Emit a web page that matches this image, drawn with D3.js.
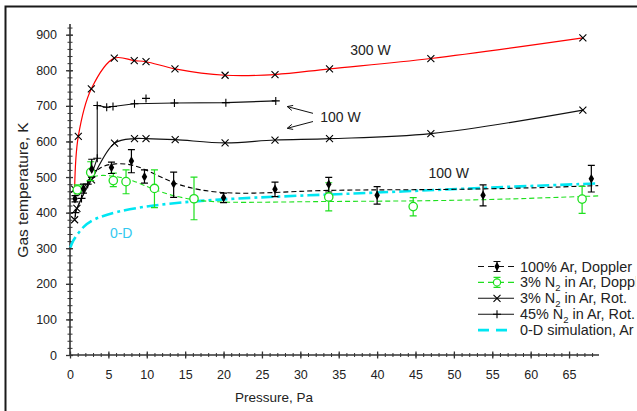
<!DOCTYPE html>
<meta charset="utf-8">
<style>
 body { margin: 0; background: #fff; }
 svg text { font-family: "Liberation Sans", Arial, sans-serif; fill: #222; }
 .axis path, .axis line { stroke: #333; }
 .axis text { font-size: 12.5px; }
</style>
<body>
<script src="https://d3js.org/d3.v7.min.js"></script>
<script>
 // 3% N2 in Ar, rotational T, 300 W  [pressure Pa, T K]
 var rot300 = [[0.6,466],[1.08,614],[2.78,748],[5.77,834],[8.37,827],[9.9,824],[13.67,804],
               [20.2,786],[26.7,788],[33.8,804],[47,833],[66.8,891]];
 // 3% N2 in Ar, rotational T, 100 W
 var rot100 = [[0.6,380],[0.9,412],[2.8,492],[5.8,595],[8.4,608],[9.9,608],[13.7,605],
               [20.2,596],[26.7,604],[33.8,608],[47,622],[66.8,688]];
 // 45% N2 in Ar, rotational T
 var rot45 = [[0.7,400],[1.5,440],[2.3,480],[3.0,518],[3.55,553],[3.55,701],[4.78,696],
              [5.6,698],[8.4,706],[13.6,708],[20.3,709],[26.8,714]];
 var rot45Extra = [[9.9,721]];
 // Doppler: [pressure, T, low, high]
 var arDop = [[0.65,439,430,448],[1.75,467,455,480],[2.83,522,500,550],[5.4,527,510,542],
              [8.0,545,512,577],[9.7,501,483,520],[13.5,481,443,514],[20.0,442,428,455],
              [26.7,466,445,486],[33.7,480,458,499],[40.0,449,424,473],[53.8,449,419,478],
              [67.9,495,458,533]];
 var n2Dop = [[0.95,464,453,478],[2.7,513,490,543],[5.64,490,473,511],[7.3,487,453,520],
              [11.0,468,414,520],[16.15,439,380,500],[33.7,444,405,484],[44.7,417,391,442],
              [66.7,438,398,474]];
 // fitted trend lines
 var arDopFit = [[0.5,430],[1.8,468],[2.8,505],[4,530],[5.8,539],[8.3,536],[10.8,511],[13.5,482],
                 [16.9,462],[21.2,453],[26.7,456],[32.5,463],[40,464],[50,465],[60,469],[68.8,476]];
 var n2DopFit = [[0.6,458],[1.5,475],[2.7,500],[3.9,506],[5.8,503],[8.2,492],[10.8,464],[15.2,436],
                 [20.4,427],[30,431],[40,432],[50,434],[60,440],[68.8,447]];
 var zeroD = [[0.05,302],[0.4,322],[0.9,337],[1.7,360],[3,382],[6,403],[10.4,420],[16.5,433],
              [23.4,442],[33.8,451],[43,459],[53.8,470],[68.8,482]];

 var xMajor = d3.range(0, 66, 5), xMinor = d3.range(0, 69, 1);
 var yMajor = d3.range(0, 901, 100), yMinor = d3.range(0, 921, 20);

 var svg = d3.select("body").append("svg").attr("width", 637).attr("height", 411);

 // outer frame
 svg.append("rect").attr("x", 5.5).attr("y", 6.5).attr("width", 700).attr("height", 500)
    .attr("fill", "none").attr("stroke", "#1a1a1a").attr("stroke-width", 2);

 var x = d3.scaleLinear().domain([0, 68.9]).range([70, 599]),
     y = d3.scaleLinear().domain([0, 930]).range([355, 24]);

 // axes
 var gy = svg.append("g").attr("class", "axis").attr("transform", "translate(70,0)")
   .call(d3.axisLeft(y).tickValues(yMajor).tickSize(4).tickPadding(9));
 gy.selectAll(".tick line").attr("x1", 3).attr("x2", -4).attr("stroke-width", 1.3);
 var gym = svg.append("g").attr("class", "axis").attr("transform", "translate(70,0)")
   .call(d3.axisLeft(y).tickValues(yMinor).tickSize(2.5).tickFormat(""));
 gym.selectAll(".tick line").attr("x1", 2.5);
 gym.select(".domain").remove();
 gy.select(".domain").attr("d", "M0," + y(0) + "V" + y(930)).attr("stroke-width", 1.6);

 var gx = svg.append("g").attr("class", "axis").attr("transform", "translate(0,355)")
   .call(d3.axisBottom(x).tickValues(xMajor).tickSize(3.5).tickPadding(12));
 gx.selectAll(".tick line").attr("y1", -3.5).attr("stroke-width", 1.3);
 var gxm = svg.append("g").attr("class", "axis").attr("transform", "translate(0,355)")
   .call(d3.axisBottom(x).tickValues(xMinor).tickSize(2).tickFormat(""));
 gxm.selectAll(".tick line").attr("y1", -2);
 gxm.select(".domain").remove();
 gx.select(".domain").attr("d", "M" + x(0) + ",0H" + x(68.9)).attr("stroke-width", 1.6);
 svg.selectAll(".axis text").attr("fill", "#222");

 // axis titles
 svg.append("text").attr("x", 274).attr("y", 402).attr("text-anchor", "middle")
    .style("font-size", "13.5px").text("Pressure, Pa");
 svg.append("text").attr("transform", "translate(28,190) rotate(-90)")
    .attr("text-anchor", "middle").style("font-size", "15.5px").text("Gas temperature, K");

 var line = d3.line().x(function (d) { return x(d[0]); }).y(function (d) { return y(d[1]); });
 var smooth = d3.line().curve(d3.curveCatmullRom.alpha(0.5))
   .x(function (d) { return x(d[0]); }).y(function (d) { return y(d[1]); });
 var basis = d3.line().curve(d3.curveBasis)
   .x(function (d) { return x(d[0]); }).y(function (d) { return y(d[1]); });

 var GREEN = "#1ee01e", CYAN = "#00e6f2";

 // 0-D simulation
 svg.append("path").datum(zeroD).attr("d", basis).attr("fill", "none")
    .attr("stroke", CYAN).attr("stroke-width", 2.6).attr("stroke-dasharray", "12,4,3,4");
 // Doppler fits
 svg.append("path").datum(n2DopFit).attr("d", basis).attr("fill", "none")
    .attr("stroke", GREEN).attr("stroke-width", 1.1).attr("stroke-dasharray", "5,3");
 svg.append("path").datum(arDopFit).attr("d", basis).attr("fill", "none")
    .attr("stroke", "#000").attr("stroke-width", 1.1).attr("stroke-dasharray", "5,3");
 // rotational curves
 svg.append("path").datum(rot300).attr("d", smooth).attr("fill", "none")
    .attr("stroke", "#ff0000").attr("stroke-width", 1.2);
 svg.append("path").datum(rot100).attr("d", smooth).attr("fill", "none")
    .attr("stroke", "#111").attr("stroke-width", 1.1);
 svg.append("path").datum(rot45).attr("d", line).attr("fill", "none")
    .attr("stroke", "#111").attr("stroke-width", 1.1);

 function cross(g, data, sym) {
   g.selectAll(null).data(data).enter().append("path")
    .attr("transform", function (d) { return "translate(" + x(d[0]) + "," + y(d[1]) + ")"; })
    .attr("d", sym === "x" ? "M-3.5,-3.5L3.5,3.5M-3.5,3.5L3.5,-3.5" : "M-4,0H4M0,-4V4")
    .attr("stroke", "#000").attr("stroke-width", 1.1).attr("fill", "none");
 }
 cross(svg.append("g"), rot300, "x");
 cross(svg.append("g"), rot100, "x");
 cross(svg.append("g"), rot45, "+");
 cross(svg.append("g"), rot45Extra, "+");

 function errBars(g, data, color) {
   g.selectAll(null).data(data).enter().append("path")
     .attr("d", function (d) {
       var px = x(d[0]), lo = y(d[2]), hi = y(d[3]);
       return "M" + px + "," + lo + "V" + hi + "M" + (px - 3.5) + "," + hi + "H" + (px + 3.5) +
              "M" + (px - 3.5) + "," + lo + "H" + (px + 3.5);
     })
     .attr("stroke", color).attr("stroke-width", 1.2).attr("fill", "none");
 }
 errBars(svg.append("g"), n2Dop, GREEN);
 errBars(svg.append("g"), arDop, "#000");

 svg.append("g").selectAll(null).data(n2Dop).enter().append("circle")
    .attr("cx", function (d) { return x(d[0]); }).attr("cy", function (d) { return y(d[1]); })
    .attr("r", 4.2).attr("fill", "#fff").attr("stroke", GREEN).attr("stroke-width", 1.3);
 svg.append("g").selectAll(null).data(arDop).enter().append("path")
    .attr("transform", function (d) { return "translate(" + x(d[0]) + "," + y(d[1]) + ")"; })
    .attr("d", d3.symbol().type(d3.symbolDiamond).size(26)).attr("fill", "#000");

 // annotations
 var labels = [["300 W", 36.5, 843, "#222"], ["100 W", 32.6, 655, "#222"],
               ["100 W", 46.7, 496, "#222"], ["0-D", 5.2, 330, "#33c8f0"]];
 svg.append("g").selectAll(null).data(labels).enter().append("text")
    .attr("x", function (d) { return x(d[1]); }).attr("y", function (d) { return y(d[2]); })
    .style("fill", function (d) { return d[3]; })
    .style("font-size", "14px").text(function (d) { return d[0]; });

 var arrows = [[31.65, 679, 28.3, 698], [31.65, 656, 28.3, 637]];
 svg.append("g").selectAll(null).data(arrows).enter().append("path")
    .attr("d", function (d) {
      var x1 = x(d[0]), y1 = y(d[1]), x2 = x(d[2]), y2 = y(d[3]);
      var a = Math.atan2(y1 - y2, x1 - x2), h = 6, s = 0.45;
      return "M" + x1 + "," + y1 + "L" + x2 + "," + y2 +
        "M" + (x2 + h * Math.cos(a + s)) + "," + (y2 + h * Math.sin(a + s)) + "L" + x2 + "," + y2 +
        "L" + (x2 + h * Math.cos(a - s)) + "," + (y2 + h * Math.sin(a - s));
    })
    .attr("stroke", "#111").attr("stroke-width", 1).attr("fill", "none");

 // legend
 var legend = [
   { pre: "100% Ar, Doppler", sub: "", post: "", kind: "dopAr" },
   { pre: "3% N", sub: "2", post: " in Ar, Doppler", kind: "dopN2" },
   { pre: "3% N", sub: "2", post: " in Ar, Rot.", kind: "x" },
   { pre: "45% N", sub: "2", post: " in Ar, Rot.", kind: "+" },
   { pre: "0-D simulation, Ar", sub: "", post: "", kind: "zeroD" }
 ];
 svg.append("clipPath").attr("id", "legclip").append("rect")
    .attr("x", 470).attr("y", 250).attr("width", 165.5).attr("height", 100);
 var lg = svg.append("g").attr("clip-path", "url(#legclip)");
 legend.forEach(function (d, i) {
   var cy = 266.5 + i * 15.9, g = lg.append("g");
   if (d.kind === "zeroD") {
     g.append("path").attr("d", "M478," + cy + "H514").attr("stroke", CYAN)
      .attr("stroke-width", 2.6).attr("stroke-dasharray", "11,7");
   } else {
     var col = d.kind === "dopN2" ? GREEN : "#111";
     g.append("path").attr("d", "M478," + cy + "H514").attr("stroke", col).attr("stroke-width", 1.1)
      .attr("stroke-dasharray", d.kind.indexOf("dop") === 0 ? "6,4" : null);
     if (d.kind === "x" || d.kind === "+") {
       cross(g, [[x.invert(497), y.invert(cy)]], d.kind);
     } else {
       g.append("path").attr("d", "M497," + (cy - 5) + "V" + (cy + 5) + "M493.5," + (cy - 5) + "H500.5M493.5," +
                            (cy + 5) + "H500.5").attr("stroke", col).attr("stroke-width", 1.2);
       if (d.kind === "dopN2") g.append("circle").attr("cx", 497).attr("cy", cy).attr("r", 3.6)
          .attr("fill", "#fff").attr("stroke", col).attr("stroke-width", 1.2);
       else g.append("path").attr("transform", "translate(497," + cy + ")")
          .attr("d", d3.symbol().type(d3.symbolDiamond).size(24)).attr("fill", "#000");
     }
   }
   var t = g.append("text").attr("x", 520).attr("y", cy + 5).style("font-size", "14.4px");
   t.append("tspan").text(d.pre);
   if (d.sub) {
     t.append("tspan").attr("dy", 3.5).style("font-size", "9.5px").text(d.sub);
     t.append("tspan").attr("dy", -3.5).text(d.post);
   }
 });
</script>
</body>
